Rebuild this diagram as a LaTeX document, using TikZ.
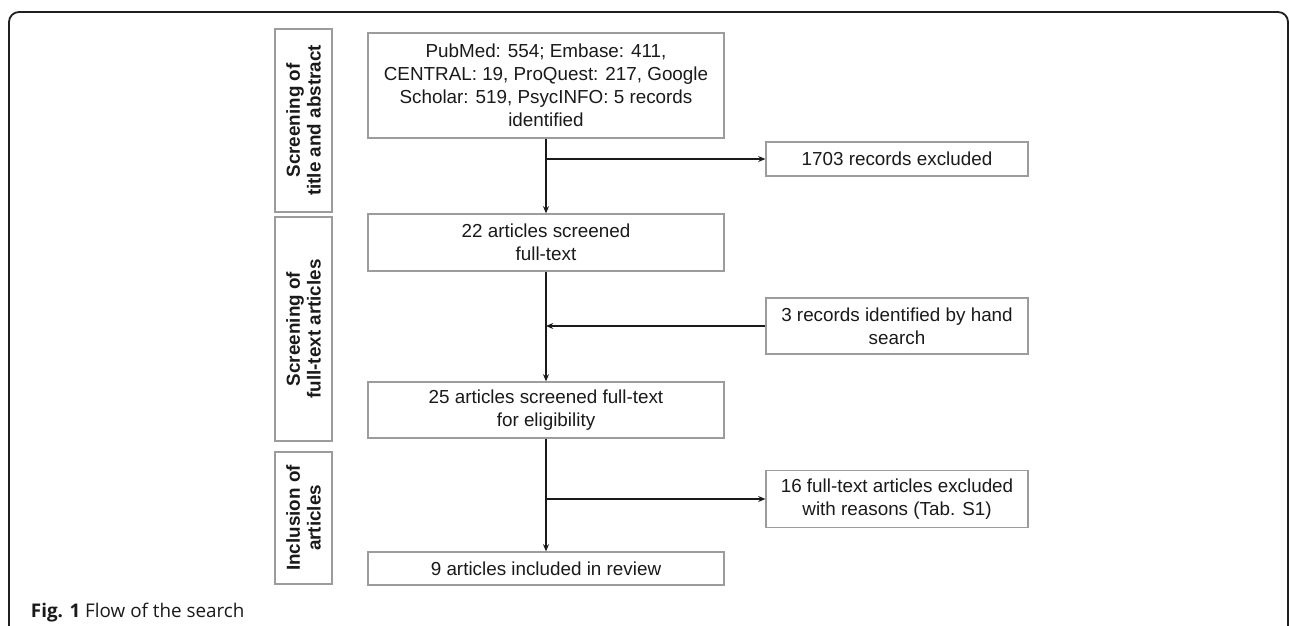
\documentclass[tikz,border=0pt]{standalone}
\usepackage{fontspec}
\setmainfont{Liberation Sans}
\newfontfamily\capfont{Open Sans}
\usetikzlibrary{arrows.meta,positioning}
\definecolor{ink}{HTML}{1A1A1A}
\definecolor{boxgray}{HTML}{9C9C9C}
\definecolor{framegray}{HTML}{202020}
\tikzset{
  stage/.style={draw=boxgray,line width=0.9pt,rotate=90,minimum height=1.425cm,inner sep=0pt,align=center,text=ink,font=\bfseries\fontsize{13.4}{14.6}\selectfont},
  box/.style={draw=boxgray,line width=0.9pt,fill=white,inner sep=0pt,align=center,text=ink,font=\fontsize{13.4}{16.4}\selectfont},
  mainbox/.style={box,minimum width=8.9cm},
  sidebox/.style={box,minimum width=6.55cm},
  caption/.style={font=\capfont\fontsize{13.4}{15}\selectfont,text=ink},
  arr/.style={-{Stealth[length=1.8mm,width=1.5mm]},draw=ink,line width=1pt}
}
\begin{document}
\begin{tikzpicture}[x=1cm,y=1cm]
\path[use as bounding box] (0,0) rectangle (32.25,15.65);
\draw[framegray,line width=1.3pt,rounded corners=0.25cm] (0.225,-0.5)--(0.225,15.35)--(32.2,15.35)--(32.2,-0.5);
\node[stage,minimum width=4.575cm] (s1) at (7.5875,12.6375) {Screening of\\title and abstract};
\node[stage,minimum width=5.6cm] (s2) at (7.5875,7.425) {Screening of\\full-text articles};
\node[stage,minimum width=3.3cm] (s3) at (7.5875,2.7) {Inclusion of\\articles};
\node[mainbox,minimum height=2.625cm] (rec) at (13.65,13.5125) {PubMed: 554; Embase: 411,\\CENTRAL: 19, ProQuest: 217, Google\\Scholar: 519, PsycINFO: 5 records\\identified};
\node[mainbox,minimum height=1.425cm] (scr) at (13.65,9.5875) {22 articles screened\\full-text};
\node[mainbox,minimum height=1.4cm] (elig) at (13.65,5.4) {25 articles screened full-text\\for eligibility};
\node[mainbox,minimum height=0.825cm] (incl) at (13.65,1.4375) {9 articles included in review};
\node[sidebox,minimum height=0.85cm] (exc1) at (22.425,11.675) {1703 records excluded};
\node[sidebox,minimum height=1.4cm] (hand) at (22.425,7.5) {3 records identified by hand\\search};
\node[sidebox,minimum height=1.425cm] (exc2) at (22.425,3.175) {16 full-text articles excluded\\with reasons (Tab. S1)};
\coordinate (b1) at (13.65,11.675); \coordinate (b2) at (13.65,7.5); \coordinate (b3) at (13.65,3.175);
\draw[arr] (rec)--(scr); \draw[arr] (scr)--(elig); \draw[arr] (elig)--(incl);
\draw[arr] (b1)--(exc1.west); \draw[arr] (hand.west)--(b2); \draw[arr] (b3)--(exc2.west);
\node[caption,anchor=base west] (cap) at (0.65,0.2) {\textbf{Fig. 1} Flow of the search};
\end{tikzpicture}
\end{document}
